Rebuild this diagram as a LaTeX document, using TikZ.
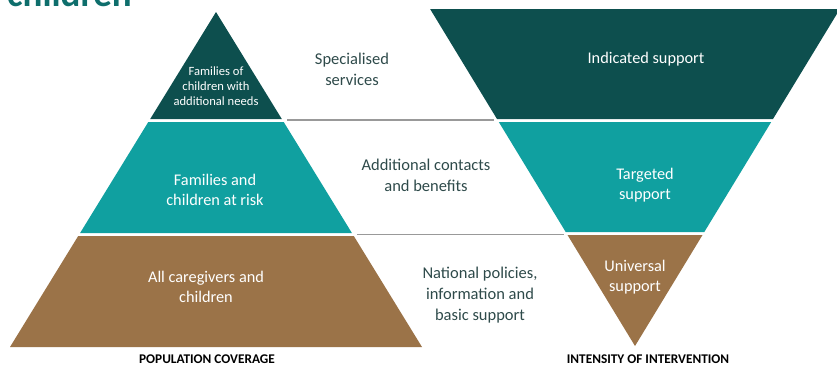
\documentclass[tikz,border=0pt]{standalone}
\usepackage{fontspec}
\setmainfont{Carlito}
\usepackage{tikz}
\usepackage{xcolor}
\usetikzlibrary{positioning}
\definecolor{darkteal}{HTML}{0D4F4E}
\definecolor{midteal}{HTML}{10A0A0}
\definecolor{brownband}{HTML}{9B7348}
\definecolor{labeltext}{HTML}{2E4A4A}
\definecolor{titleteal}{HTML}{0E6E6C}
\tikzset{
  inlabel/.style={text=white, align=center, font=\fontsize{16.3}{20.5}\selectfont},
  sidelabel/.style={text=labeltext, align=center, font=\fontsize{16.5}{20.8}\selectfont},
  axislabel/.style={text=black, font=\fontsize{13.3}{14}\selectfont\bfseries},
  divider/.style={draw=gray!80, line width=1.6pt}
}

\begin{document}
\begin{tikzpicture}[x=1pt, y=-1pt]
    \useasboundingbox (0,0) rectangle (837,368);
    % Title cut off at the top
    \node[anchor=base west, text=titleteal, inner sep=0pt,
          font=\fontsize{37}{37}\selectfont\bfseries] (title) at (7,6) {children};

    % Population pyramid
    \fill[darkteal] (216,12) -- (281.8,119) -- (150.2,119) -- cycle;
    \fill[midteal] (148.3,122) -- (283.7,122) -- (351.9,233) -- (80.1,233) -- cycle;
    \fill[brownband] (78.2,236) -- (353.8,236) -- (422,347) -- (10,347) -- cycle;

    % Intervention triangle
    \fill[darkteal] (430.1,9) -- (839.9,9) -- (773,119) -- (497,119) -- cycle;
    \fill[midteal] (498.8,122) -- (771.2,122) -- (704.3,232) -- (565.7,232) -- cycle;
    \fill[brownband] (567.5,235) -- (702.5,235) -- (635,346) -- cycle;

    % Dividers
    \coordinate (d1a) at (287,120);
    \coordinate (d1b) at (494,120);
    \coordinate (d2a) at (357,234.5);
    \coordinate (d2b) at (564,234.5);
    \draw[divider] (d1a) -- (d1b);
    \draw[divider] (d2a) -- (d2b);

    % Pyramid labels
    \node[inlabel, font=\fontsize{12.6}{14.8}\selectfont] (need) at (216,86) {Families of\\children with\\additional needs};
    \node[inlabel] (risk) at (215,190) {Families and\\children at risk};
    \node[inlabel] (all) at (206,287) {All caregivers and\\children};

    % Middle labels
    \node[sidelabel] (spec) at (352,69) {Specialised\\services};
    \node[sidelabel] (addi) at (426,175) {Additional contacts\\and benefits};
    \node[sidelabel] (natl) at (480,295) {National policies,\\information and\\basic support};

    % Support labels
    \node[inlabel] (indi) at (646,59) {Indicated support};
    \node[inlabel] (targ) at (645,185) {Targeted\\support};
    \node[inlabel] (univ) at (635,277) {Universal\\support};

    % Axis labels
    \node[axislabel] (popc) at (207,359) {POPULATION COVERAGE};
    \node[axislabel] (intv) at (648,359) {INTENSITY OF INTERVENTION};
\end{tikzpicture}
\end{document}
